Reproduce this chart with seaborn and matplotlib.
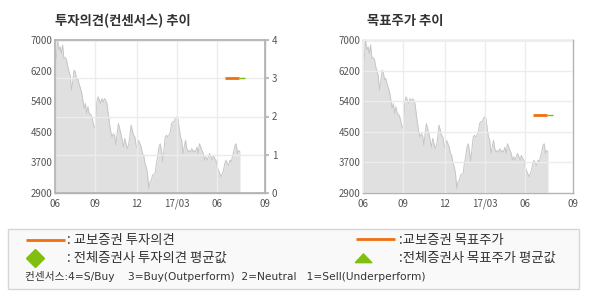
import numpy as np
import pandas as pd
import matplotlib
matplotlib.use("Agg")
import matplotlib.pyplot as plt
from matplotlib.patches import Rectangle
from matplotlib.lines import Line2D
import seaborn as sns

# ---------------- data ----------------
prices = [6420, 6500, 7000, 6730, 6820, 6640, 6870, 6510, 6530, 6480, 6300, 6150,
          6060, 5660, 5880, 6190, 6150, 5930, 5970, 5820, 5720, 5600, 5390, 5170,
          5300, 5030, 5210, 5030, 5010, 4950, 4800, 4650, 4700, 5340, 5480, 5390,
          5300, 5430, 5340, 5430, 5390, 5300, 5030,
          4760, 4540, 4400, 4490, 4450, 4180, 4490, 4760, 4630, 4490, 4310, 4130,
          4360, 4220, 4090, 4180, 4400, 4720, 4580, 4450, 4400, 4180, 4090, 4310,
          4220, 4130, 3960, 3910, 3690, 3600, 3420, 3020, 3200, 3240, 3380, 3400,
          3420, 3690, 3870, 4130, 4220, 4040, 3730, 4090, 4400, 4450, 4400, 4450,
          4540, 4760, 4810, 4810, 4900, 4940, 4900, 4630, 4400, 4310, 3960, 4130,
          4310, 4090, 4000, 4040, 4000, 4090, 4000, 4040, 4000, 4130, 3960, 4220,
          4130, 4040, 3960, 3780, 3870, 3780, 3870, 3960, 3870, 3780, 3910, 3820,
          3780, 3600, 3510, 3420, 3330, 3420, 3510, 3690, 3780, 3690, 3640, 3780,
          3730, 3870, 4000, 4180, 4220, 3960, 4040, 4000]
x_tick_labels = ["06", "09", "12", "17/03", "06", "09"]
price_tick_labels = ["2900", "3700", "4500", "5400", "6200", "7000"]
price_range = [2900, 7000]
opinion_ticks = [0, 1, 2, 3, 4]
kb_opinion = 3          # 교보증권 투자의견
avg_opinion = 3         # 전체증권사 투자의견 평균값
kb_target = 5000        # 교보증권 목표주가
avg_target = 5000       # 전체증권사 목표주가 평균값

title_left = "투자의견(컨센서스) 추이"
title_right = "목표주가 추이"
leg_kb_op = ": 교보증권 투자의견"
leg_avg_op = ": 전체증권사 투자의견 평균값"
leg_kb_tp = ":교보증권 목표주가"
leg_avg_tp = ":전체증권사 목표주가 평균값"
leg_note = "컨센서스:4=S/Buy    3=Buy(Outperform)  2=Neutral   1=Sell(Underperform)"

# ---------------- layout helpers ----------------
n = len(prices)
unit = (n - 1) / 185.0                       # axis units per pixel
x_max = 210 * unit
tick_pos = [p * unit for p in [0, 40, 82, 122, 162, 210]]
kb_span = (170 * unit, 184 * unit)
avg_span = (184 * unit, 190 * unit)

df = pd.DataFrame({"t": np.arange(n), "price": prices})

sns.set_theme(style="white")
plt.rcParams["font.family"] = ["Noto Sans CJK KR", "DejaVu Sans"]

ORANGE = "#f07010"
GREEN = "#80bf10"
SPINE = "#b4b4b4"
GRID = "#ececec"
TXT = "#555555"
FILL = "#e0e0e0"
LINE = "#c6c6c6"

fig = plt.figure(figsize=(5.9, 3.0), dpi=100)
fig.patch.set_facecolor("white")

ax_pos_l = [55 / 590, 1 - 193 / 300, 210 / 590, 153 / 300]
ax_pos_r = [363 / 590, 1 - 193 / 300, 210 / 590, 153 / 300]

price_ticks = np.linspace(price_range[0], price_range[1], 6)


def price_panel(ax):
    ax.fill_between(df["t"], price_range[0], df["price"], color=FILL, lw=0, zorder=1)
    sns.lineplot(data=df, x="t", y="price", ax=ax, color=LINE, lw=0.7, zorder=2)
    ax.set_xlim(0, x_max)
    ax.set_ylim(*price_range)
    ax.set_xticks(tick_pos)
    ax.set_xticklabels(x_tick_labels)
    ax.set_yticks(price_ticks)
    ax.set_yticklabels(price_tick_labels)
    ax.set_xlabel("")
    ax.set_ylabel("")
    for s in ax.spines.values():
        s.set_color(SPINE)
        s.set_linewidth(1.0)
    ax.tick_params(axis="both", colors=TXT, labelsize=7, length=0, pad=2)
    ax.tick_params(axis="x", length=3, color=SPINE, pad=1)
    ax.set_axisbelow(False)
    ax.grid(axis="x", color=GRID, lw=1.0)


# left panel
ax1 = fig.add_axes(ax_pos_l)
price_panel(ax1)
ax1.grid(axis="y", visible=False)
ax1r = ax1.twinx()
ax1r.set_ylim(0, 4)
ax1r.set_yticks(opinion_ticks)
ax1r.set_yticklabels([str(v) for v in opinion_ticks])
ax1r.tick_params(axis="y", colors=TXT, labelsize=7, length=3, pad=2)
ax1r.tick_params(axis="y", color=SPINE)
ax1r.grid(axis="y", color=GRID, lw=1.0)
for s in ax1r.spines.values():
    s.set_color(SPINE)
ax1r.plot(kb_span, [kb_opinion] * 2, color=ORANGE, lw=2.0, solid_capstyle="butt", zorder=5)
ax1r.plot(avg_span, [avg_opinion] * 2, color=GREEN, lw=1.0, solid_capstyle="butt", zorder=5)

# right panel
ax2 = fig.add_axes(ax_pos_r)
price_panel(ax2)
ax2.grid(axis="y", color=GRID, lw=1.0)
ax2.plot(kb_span, [kb_target] * 2, color=ORANGE, lw=2.0, solid_capstyle="butt", zorder=5)
ax2.plot(avg_span, [avg_target] * 2, color=GREEN, lw=1.0, solid_capstyle="butt", zorder=5)

# titles
fig.text(55 / 590, 1 - 21 / 300, title_left, fontsize=9.6, fontweight="bold",
         color="#333333", va="center", ha="left")
fig.text(367 / 590, 1 - 21 / 300, title_right, fontsize=9.6, fontweight="bold",
         color="#333333", va="center", ha="left")

# legend box
lg = fig.add_axes([0, 0, 1, 1], zorder=-1)
lg.set_xlim(0, 590)
lg.set_ylim(300, 0)
lg.axis("off")
lg.add_patch(Rectangle((8, 229), 571, 60, facecolor="#f9f9f9", edgecolor="#d6d6d6", lw=1.0))
fs = 9.6
lg.add_line(Line2D([26, 65], [240, 240], color=ORANGE, lw=2.0, solid_capstyle="butt"))
lg.text(67, 240, leg_kb_op, fontsize=fs, color="#333333", va="center", ha="left")
lg.plot([35], [258], marker="D", color=GREEN, ms=9, ls="none")
lg.text(67, 258, leg_avg_op, fontsize=fs, color="#333333", va="center", ha="left")
lg.add_line(Line2D([356, 395], [239, 239], color=ORANGE, lw=2.0, solid_capstyle="butt"))
lg.text(399, 240, leg_kb_tp, fontsize=fs, color="#333333", va="center", ha="left")
flat_tri = [(-1.0, -0.5), (1.0, -0.5), (0.0, 0.55), (-1.0, -0.5)]
lg.plot([363], [258], marker=flat_tri, color=GREEN, ms=12, ls="none")
lg.text(399, 258, leg_avg_tp, fontsize=fs, color="#333333", va="center", ha="left")
lg.text(25, 277, leg_note, fontsize=7.7, color="#333333", va="center", ha="left",
        family=["DejaVu Sans", "Noto Sans CJK KR"])

fig.savefig("out.png", dpi=100, facecolor="white")
